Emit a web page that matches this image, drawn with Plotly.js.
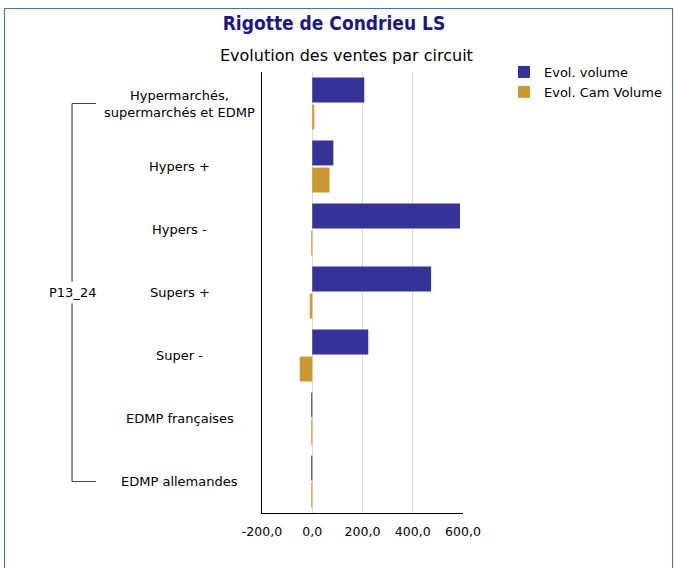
<!DOCTYPE html>
<html>
<head>
<meta charset="utf-8">
<script src="https://cdn.plot.ly/plotly-3.0.1.min.js"></script>
<style>
  html, body { margin: 0; padding: 0; background: #ffffff; }
  #wrap { position: relative; width: 674px; height: 568px; overflow: hidden; }
  #chart { position: absolute; left: 0; top: 0; width: 674px; height: 568px; }
  #frame { position: absolute; left: 4px; top: 8px; width: 667px; height: 620px;
           border: 1px solid #3f72b8; pointer-events: none; }
</style>
</head>
<body>
<div id="wrap">
  <div id="chart"></div>
  <div id="frame"></div>
</div>
<script>
// ---- data ----
const categories = [
  "Hypermarchés,<br>supermarchés et EDMP",
  "Hypers +",
  "Hypers -",
  "Supers +",
  "Super -",
  "EDMP françaises",
  "EDMP allemandes"
];
const groupLabel = "P13_24";
const seriesNames = ["Evol. volume", "Evol. Cam Volume"];
const evolVolume = [207, 84, 588, 473, 223, -4, -4];
const evolCamVolume = [8, 69, -4, -10, -50, -4, -4];
const xTicks = [-200, 0, 200, 400, 600];
const xTickText = ["-200,0", "0,0", "200,0", "400,0", "600,0"];
const titleText = "Rigotte de Condrieu LS";
const subtitleText = "Evolution des ventes par circuit";

// ---- styling ----
const FONT = "DejaVu Sans, sans-serif";
const FONT_TITLE = "DejaVu Sans Condensed, DejaVu Sans, sans-serif";
const idx = categories.map((c, i) => i);

const traces = [
  {
    type: "bar", orientation: "h", name: seriesNames[0],
    y: idx, x: evolVolume,
    marker: { color: "#333399" }, hoverinfo: "x+name"
  },
  {
    type: "bar", orientation: "h", name: seriesNames[1],
    y: idx, x: evolCamVolume,
    marker: { color: "#CC9933" }, hoverinfo: "x+name"
  }
];

// category labels as centered annotations (left of the axis)
const annotations = categories.map((c, i) => ({
  xref: "paper", yref: "y", x: -0.41, y: i,
  text: c, showarrow: false, xanchor: "center", yanchor: "middle",
  align: "center", font: { family: FONT, size: 13, color: "#000000" }
}));
annotations.push({
  xref: "paper", yref: "y", x: -0.945, y: (categories.length - 1) / 2,
  text: groupLabel, showarrow: false, xanchor: "center", yanchor: "middle",
  bgcolor: "#ffffff", borderpad: 3,
  font: { family: FONT, size: 13, color: "#000000" }
});
annotations.push({
  xref: "paper", yref: "paper", x: (346 - 262) / 201, y: 1 + (72 - 55) / 441,
  text: subtitleText, showarrow: false, xanchor: "center", yanchor: "middle",
  font: { family: FONT, size: 16, color: "#000000" }
});

const n = categories.length;
const shapes = [
  { type: "line", xref: "paper", yref: "y", x0: -0.945, x1: -0.945, y0: 0, y1: n - 1,
    line: { color: "#222222", width: 1 } },
  { type: "line", xref: "paper", yref: "y", x0: -0.945, x1: -0.826, y0: 0, y1: 0,
    line: { color: "#444444", width: 1 } },
  { type: "line", xref: "paper", yref: "y", x0: -0.945, x1: -0.826, y0: n - 1, y1: n - 1,
    line: { color: "#444444", width: 1 } }
];

const layout = {
  width: 674, height: 568,
  margin: { l: 262, r: 211, t: 72, b: 55, pad: 0, autoexpand: false },
  paper_bgcolor: "#ffffff", plot_bgcolor: "#ffffff",
  font: { family: FONT, size: 12, color: "#000000" },
  title: {
    text: "<b>" + titleText + "</b>",
    x: 334 / 674, xanchor: "center", xref: "container",
    y: 1 - 23 / 568, yanchor: "middle", yref: "container",
    font: { family: FONT_TITLE, size: 19, color: "#1a1a80" },
    automargin: false
  },
  barmode: "group", bargap: 0.14, bargroupgap: 0.08,
  xaxis: {
    range: [-200, 600], tickvals: xTicks, ticktext: xTickText,
    showgrid: true, gridcolor: "#d9d9d9", gridwidth: 1,
    zeroline: true, zerolinecolor: "#d9d9d9", zerolinewidth: 1,
    showline: true, linecolor: "#000000", linewidth: 1,
    ticks: "", ticklen: 0, automargin: false, ticklabelstandoff: 7,
    tickfont: { family: FONT, size: 12.5, color: "#000000" }
  },
  yaxis: {
    type: "linear", range: [n - 0.5, -0.5], automargin: false,
    showticklabels: false, showgrid: false, zeroline: false,
    showline: true, linecolor: "#000000", linewidth: 1, ticks: ""
  },
  legend: {
    x: 504 / 674, xanchor: "left", xref: "container",
    y: 1 - 57 / 568, yanchor: "top", yref: "container",
    bgcolor: "rgba(0,0,0,0)", traceorder: "normal",
    font: { family: FONT, size: 13, color: "#000000" },
    itemwidth: 30, tracegroupgap: 0
  },
  showlegend: true,
  annotations: annotations,
  shapes: shapes
};

Plotly.newPlot("chart", traces, layout, { displayModeBar: false, staticPlot: true });
</script>
</body>
</html>
